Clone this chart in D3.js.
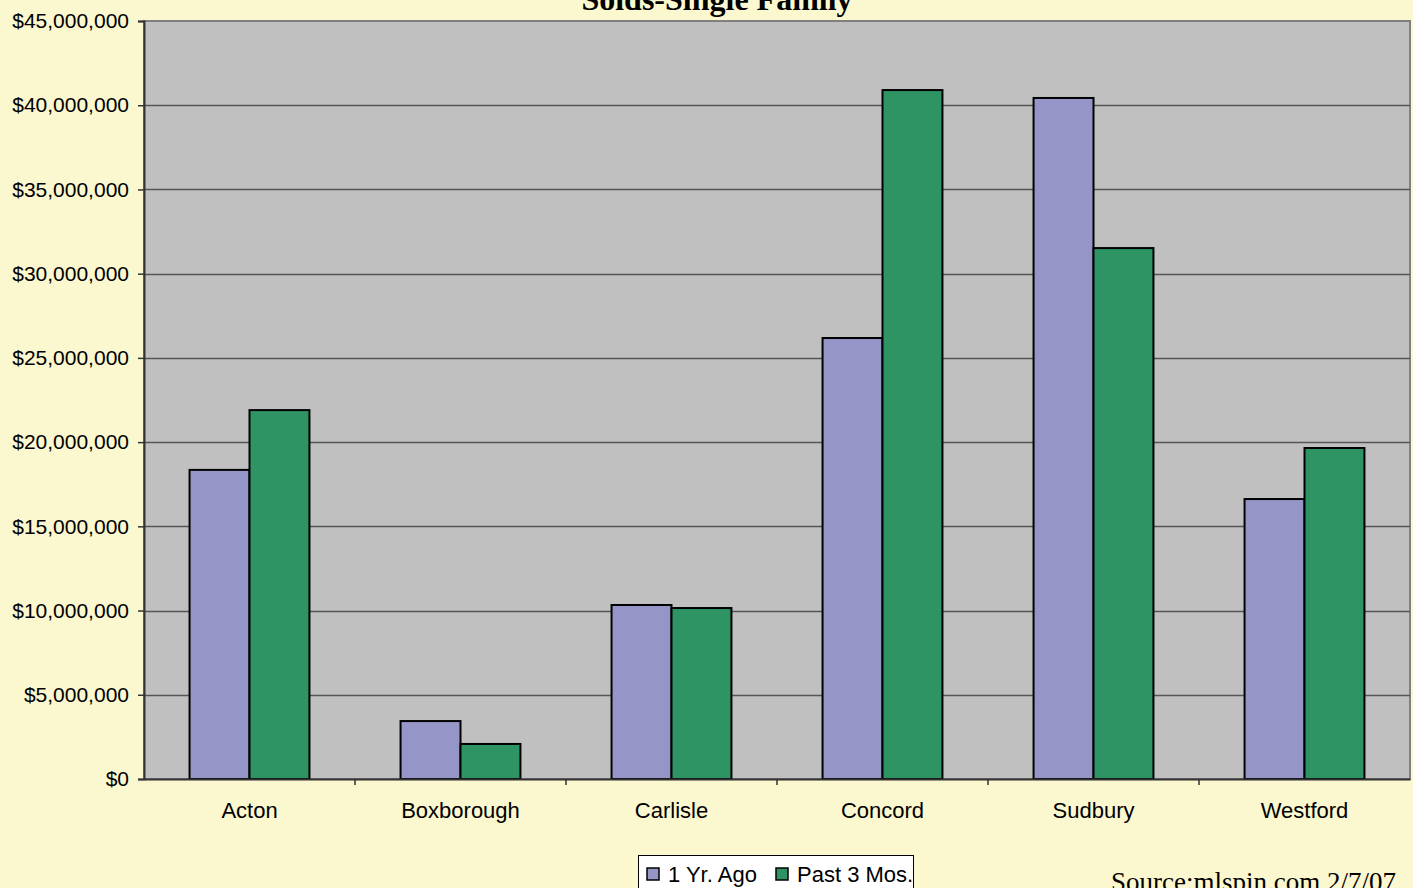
<!DOCTYPE html>
<html>
<head>
<meta charset="utf-8">
<script src="https://cdn.jsdelivr.net/npm/d3@7"></script>
<style>
  body { margin: 0; background: #fbf7cf; overflow: hidden; }
  svg { display: block; }
</style>
</head>
<body>
<svg id="chart" width="1413" height="888"></svg>
<script>
const towns = ['Acton', 'Boxborough', 'Carlisle', 'Concord', 'Sudbury', 'Westford'];
const yearAgo = [18350000, 3440000, 10330000, 26180000, 40430000, 16620000];
const past3 = [21900000, 2080000, 10150000, 40900000, 31520000, 19650000];
const seriesNames = ['1 Yr. Ago', 'Past 3 Mos.'];
const seriesColors = ['#9595c8', '#2e9464'];
const yTicks = d3.range(0, 45000001, 5000000);

const svg = d3.select('#chart');
const plotL = 144, plotR = 1410, plotT = 21, plotB = 779;

const x = d3.scaleBand().domain(towns).range([plotL, plotR]).paddingInner(0).paddingOuter(0);
const inner = d3.scaleBand().domain([0, 1]).range([0, x.bandwidth()]).paddingInner(0).paddingOuter(0.76);
const y = d3.scaleLinear().domain([0, 45000000]).range([plotB, plotT]);

// plot background
svg.append('rect')
    .attr('x', plotL).attr('y', plotT)
    .attr('width', plotR - plotL).attr('height', plotB - plotT)
    .attr('fill', '#c0c0c0')
    .attr('stroke', '#808080').attr('stroke-width', 2);

// gridlines
svg.append('g').selectAll('line').data(yTicks.slice(1, -1)).enter().append('line')
    .attr('x1', plotL).attr('x2', plotR)
    .attr('y1', d => Math.round(y(d)) + 0.5).attr('y2', d => Math.round(y(d)) + 0.5)
    .attr('stroke', '#555').attr('stroke-width', 1.5);

// bars
const data = [];
towns.forEach((t, i) => {
    data.push({town: t, s: 0, v: yearAgo[i]});
    data.push({town: t, s: 1, v: past3[i]});
});
svg.append('g').selectAll('rect').data(data).enter().append('rect')
    .attr('x', d => x(d.town) + inner(d.s))
    .attr('y', d => y(d.v))
    .attr('width', inner.bandwidth())
    .attr('height', d => y(0) - y(d.v))
    .attr('fill', d => seriesColors[d.s])
    .attr('stroke', '#000').attr('stroke-width', 2);

// y axis
const yAxis = svg.append('g').attr('transform', `translate(${plotL},0)`)
    .call(d3.axisLeft(y).tickValues(yTicks).tickSize(6).tickPadding(9)
        .tickFormat(d => '$' + d3.format(',')(d)));
yAxis.select('.domain').attr('stroke', '#333').attr('stroke-width', 2);
yAxis.selectAll('.tick line').attr('stroke', '#333').attr('stroke-width', 1.5);
yAxis.selectAll('text').attr('font-family', 'Liberation Sans, Arial, sans-serif')
    .attr('font-size', 21).attr('fill', '#000');

// x axis
const xAxis = svg.append('g').attr('transform', `translate(0,${plotB})`)
    .call(d3.axisBottom(x).tickSize(0).tickPadding(23));
xAxis.select('.domain').attr('stroke', '#333').attr('stroke-width', 2);
xAxis.selectAll('text').attr('font-family', 'Liberation Sans, Arial, sans-serif')
    .attr('font-size', 22).attr('fill', '#000');
svg.append('g').selectAll('line').data(towns.slice(1)).enter().append('line')
    .attr('x1', d => x(d)).attr('x2', d => x(d))
    .attr('y1', plotB).attr('y2', plotB + 6)
    .attr('stroke', '#333').attr('stroke-width', 1.5);

// title
svg.append('text')
    .attr('x', 717).attr('y', 10)
    .attr('text-anchor', 'middle')
    .attr('font-family', 'Liberation Serif, Times New Roman, serif')
    .attr('font-weight', 'bold').attr('font-size', 32)
    .text('Solds-Single Family');

// legend
const legend = svg.append('g').attr('transform', 'translate(638,855)');
legend.append('rect').attr('x', 0.5).attr('y', 0.5).attr('width', 275).attr('height', 40)
    .attr('fill', '#fff').attr('stroke', '#000').attr('stroke-width', 1);
const lx = [8, 137];
seriesNames.forEach((n, i) => {
    legend.append('rect').attr('x', lx[i] + 1).attr('y', 13).attr('width', 12).attr('height', 12)
        .attr('fill', seriesColors[i]).attr('stroke', '#000').attr('stroke-width', 1.5);
    legend.append('text').attr('x', lx[i] + 22).attr('y', 27)
        .attr('font-family', 'Liberation Sans, Arial, sans-serif').attr('font-size', 22)
        .text(n);
});

// source
svg.append('text')
    .attr('x', 1111).attr('y', 891)
    .attr('font-family', 'Liberation Serif, Times New Roman, serif')
    .attr('font-size', 27)
    .text('Source:mlspin.com 2/7/07');
</script>
</body>
</html>
